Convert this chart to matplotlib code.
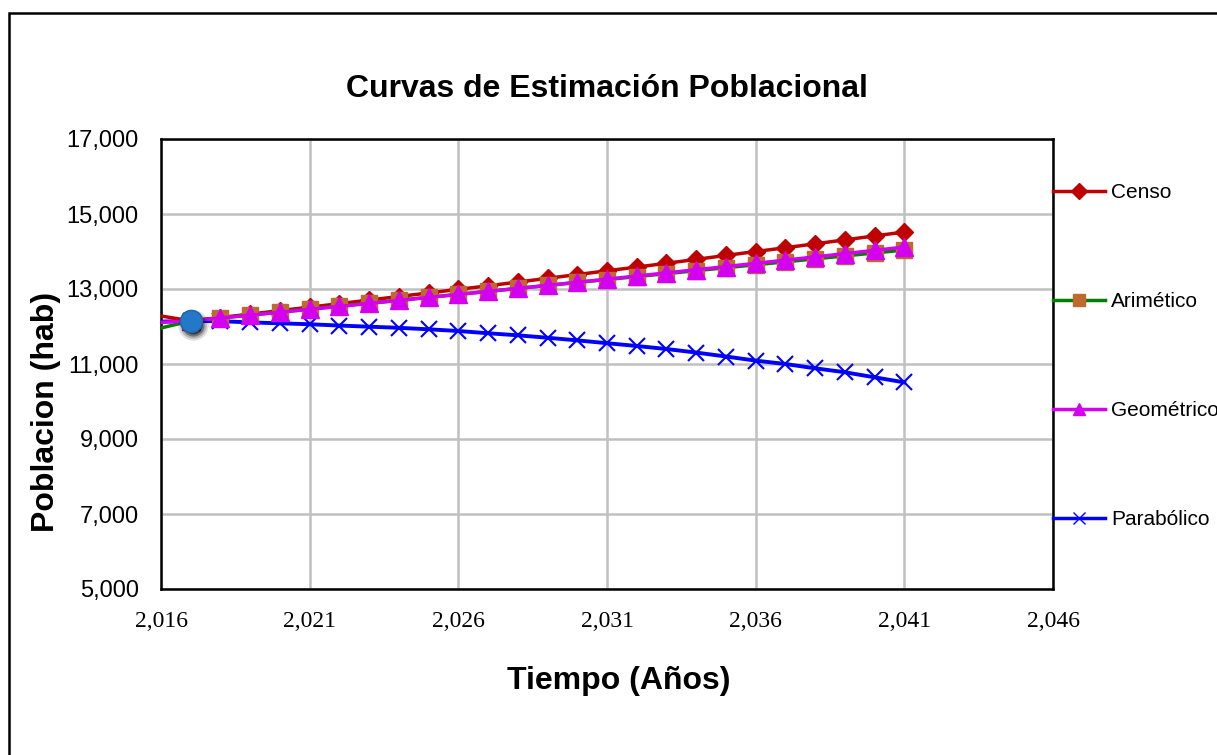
import numpy as np
import matplotlib
matplotlib.use("Agg")
import matplotlib.pyplot as plt
from matplotlib.patches import Rectangle
from matplotlib.lines import Line2D
from matplotlib.ticker import FuncFormatter, FixedLocator
import matplotlib.transforms as mtransforms

# years (2016 is only the clipped start of each line, no marker there)
years = list(range(2016, 2042))

censo = [12280, 12150, 12240, 12330, 12425, 12515, 12610, 12705, 12800, 12895, 12990,
         13085, 13185, 13285, 13385, 13485, 13585, 13685, 13790, 13895, 14000,
         14100, 14205, 14310, 14415, 14520]
aritmetico = [11960, 12150, 12229, 12308, 12386, 12465, 12544, 12623, 12701, 12780, 12859,
              12938, 13016, 13095, 13174, 13253, 13331, 13410, 13489, 13568, 13646,
              13725, 13804, 13883, 13961, 14040]
geometrico = [12110, 12150, 12226, 12303, 12380, 12458, 12536, 12615, 12694, 12774, 12854,
              12935, 13016, 13098, 13180, 13263, 13346, 13430, 13514, 13599, 13684,
              13770, 13857, 13944, 14031, 14119]
parabolico = [12130, 12150, 12140, 12110, 12085, 12060, 12025, 11995, 11965, 11925, 11880,
              11820, 11765, 11700, 11630, 11555, 11480, 11400, 11305, 11200, 11090,
              11000, 10885, 10780, 10645, 10510]

actual_year = [2017]
actual_pob = [12150]

xticks = [2016, 2021, 2026, 2031, 2036, 2041, 2046]
yticks = [5000, 7000, 9000, 11000, 13000, 15000, 17000]

fig = plt.figure(figsize=(12.17, 7.55), dpi=100)
fig.patch.set_facecolor("white")

# outer chart frame (cut at right and bottom edge like the reference)
fig.patches.append(Rectangle((9 / 1217, -0.2), 1.5, 1.2 - 13 / 755,
                             transform=fig.transFigure, fill=False,
                             edgecolor="black", lw=1.8))

ax = fig.add_axes([161 / 1217, 1 - 589 / 755, (1053 - 161) / 1217, (589 - 139) / 755])

mk = range(1, len(years))
ax.plot(years, parabolico, color="#0000FF", lw=2.8, marker="x", ms=12, mew=1.5,
        markevery=mk, label="Parabólico", zorder=3)
ax.plot(years, aritmetico, color="#008000", lw=2.5, marker="s", ms=12,
        mfc="#BE6A2E", mec="#BE6A2E", markevery=mk, label="Arimético", zorder=4)
ax.plot(years, censo, color="#C00000", lw=2.5, marker="D", ms=9,
        mfc="#C00000", mec="#C00000", markevery=mk, label="Censo", zorder=3.5)
ax.plot(years, geometrico, color="#D400F0", lw=2.5, marker="^", ms=13,
        mfc="#D400F0", mec="#D400F0", markevery=mk, label="Geométrico", zorder=5)

# soft shadow under the current-population point
shadow_tr = mtransforms.offset_copy(ax.transData, fig=fig, x=2, y=-4, units="dots")
for s, a in [(22, 0.12), (19, 0.2), (16, 0.35), (13, 0.5)]:
    ax.plot(actual_year, actual_pob, linestyle="none", marker="o", ms=s,
            mfc="black", mec="none", alpha=a, transform=shadow_tr, zorder=5.5)
ax.plot(actual_year, actual_pob, linestyle="none", marker="o", ms=16,
        mfc="#2378C8", mec="#1E64A8", zorder=6)

ax.set_xlim(2016, 2046)
ax.set_ylim(5000, 17000)
ax.xaxis.set_major_locator(FixedLocator(xticks))
ax.yaxis.set_major_locator(FixedLocator(yticks))
ax.xaxis.set_major_formatter(FuncFormatter(lambda v, p: f"{int(round(v)):,}"))
ax.yaxis.set_major_formatter(FuncFormatter(lambda v, p: f"{int(round(v)):,}"))
ax.grid(True, color="#C0C0C0", lw=1.8)
ax.set_axisbelow(True)
for s in ax.spines.values():
    s.set_linewidth(1.8)
    s.set_color("black")
ax.tick_params(length=0)
ax.tick_params(axis="x", pad=16)
ax.tick_params(axis="y", pad=16)
for t in ax.get_xticklabels():
    t.set_fontfamily("Liberation Serif")
    t.set_fontsize(17)
for t in ax.get_yticklabels():
    t.set_fontfamily("Liberation Sans")
    t.set_fontsize(17)

ax.set_title("Curvas de Estimación Poblacional", fontfamily="Liberation Sans",
             fontweight="bold", fontsize=23, pad=30)
ax.set_xlabel("Tiempo (Años)", fontfamily="Liberation Sans", fontweight="bold",
              fontsize=23)
ax.set_ylabel("Poblacion (hab)", fontfamily="Liberation Sans", fontweight="bold",
              fontsize=23)
ax.xaxis.set_label_coords(0.5135, -0.172)
ax.yaxis.set_label_coords(-0.112, 0.393)

h, l = ax.get_legend_handles_labels()
order = [2, 1, 3, 0]
leg_handles = []
for i in order:
    ln = h[i]
    leg_handles.append(Line2D([], [], color=ln.get_color(), lw=2.5, marker=ln.get_marker(),
                              ms=8 if ln.get_marker() != "x" else 9,
                              mfc=ln.get_markerfacecolor(), mec=ln.get_markeredgecolor()))
leg = ax.legend(leg_handles, [l[i] for i in order], loc="center left",
                bbox_to_anchor=(1.0, 0.5175), frameon=False, borderaxespad=0, borderpad=0,
                handlelength=2.5, handletextpad=0.3, labelspacing=4.33,
                prop={"family": "Liberation Sans", "size": 15})

fig.savefig("out.png", dpi=100)
